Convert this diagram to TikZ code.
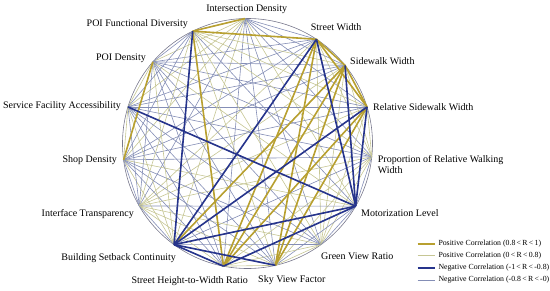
\documentclass[tikz,border=0pt]{standalone}
\usepackage{fontspec}
\setmainfont{Liberation Serif}
\definecolor{goldc}{RGB}{184,160,48}
\definecolor{dbluec}{RGB}{38,52,140}
\definecolor{tanc}{RGB}{198,198,148}
\definecolor{gbluec}{RGB}{132,142,182}
\definecolor{circc}{RGB}{120,120,140}
\begin{document}
\begin{tikzpicture}[x=1pt,y=1pt,
  lab/.style={font=\fontsize{10}{11.5}\selectfont, inner sep=0pt},
  leg/.style={font=\fontsize{7.8}{9}\selectfont, inner sep=0pt, anchor=west},
  thinpos/.style={draw=tanc, line width=0.6pt},
  thinneg/.style={draw=gbluec, line width=0.6pt},
  strongpos/.style={draw=goldc, line width=1.6pt},
  strongneg/.style={draw=dbluec, line width=1.6pt},
  circ/.style={draw=circc, line width=0.6pt}]
\useasboundingbox (0,0) rectangle (550,-290);
\coordinate (c) at (247.5,-143.5);
\draw[circ] (c) circle (125);
% points on the circle
\path (c) ++(91.2:125) coordinate (n1);   % Intersection Density
\path (c) ++(56.5:125) coordinate (n2);   % Street Width
\path (c) ++(38.7:125) coordinate (n3);   % Sidewalk Width
\path (c) ++(17.0:125) coordinate (n4);   % Relative Sidewalk Width
\path (c) ++(-6.1:125) coordinate (n5);   % Proportion of Relative Walking Width
\path (c) ++(-30.1:125) coordinate (n6);  % Motorization Level
\path (c) ++(-53.9:125) coordinate (n7);  % Green View Ratio
\path (c) ++(-77.1:125) coordinate (n8);  % Sky View Factor
\path (c) ++(-101.1:125) coordinate (n9); % Street Height-to-Width Ratio
\path (c) ++(-126:125) coordinate (n10);  % Building Setback Continuity
\path (c) ++(-150:125) coordinate (n11);  % Interface Transparency
\path (c) ++(-172.5:125) coordinate (n12);% Shop Density
\path (c) ++(163:125) coordinate (n13);   % Service Facility Accessibility
\path (c) ++(139.2:125) coordinate (n14); % POI Density
\path (c) ++(116:125) coordinate (n15);   % POI Functional Diversity
% weak correlations
\def\signs{{0,-1,1,1,1,1,-1,1,1,1,-1,1,-1,-1,-1,1}}
\foreach \i in {1,...,14}{
  \pgfmathtruncatemacro\ja{\i+1}
  \foreach \j in {\ja,...,15}{
    \pgfmathtruncatemacro\p{\signs[\i]*\signs[\j]}
    \ifnum\p>0 \draw[thinpos] (n\i) -- (n\j); \else \draw[thinneg] (n\i) -- (n\j); \fi
  }
}
% strong positive
\foreach \a/\b in {1/15,15/2,15/9,14/12,2/3,2/4,3/4,2/9,2/8,3/10,3/9,3/8,4/9,4/8}
  \draw[strongpos] (n\a) -- (n\b);
% strong negative
\foreach \a/\b in {15/10,13/6,2/10,2/6,3/6,4/6,4/10,10/6,10/9,10/8,9/6}
  \draw[strongneg] (n\a) -- (n\b);
% labels
\node[lab] (l1) at (246.7,-9) {Intersection Density};
\node[lab,anchor=west] (l2) at (310.7,-26.7) {Street Width};
\node[lab,anchor=west] (l3) at (350,-60.7) {Sidewalk Width};
\node[lab,anchor=west] (l4) at (373,-106.7) {Relative Sidewalk Width};
\node[lab,anchor=west,align=left] (l5) at (377.7,-164.6) {Proportion of Relative Walking\\Width};
\node[lab,anchor=west] (l6) at (361,-212.7) {Motorization Level};
\node[lab,anchor=west] (l7) at (321,-256) {Green View Ratio};
\node[lab,anchor=west] (l8) at (258,-280) {Sky View Factor};
\node[lab,anchor=east] (l9) at (248,-281) {Street Height-to-Width Ratio};
\node[lab,anchor=east] (l10) at (176,-257.7) {Building Setback Continuity};
\node[lab,anchor=east] (l11) at (134,-214) {Interface Transparency};
\node[lab,anchor=east] (l12) at (117,-160) {Shop Density};
\node[lab,anchor=east] (l13) at (121,-106) {Service Facility Accessibility};
\node[lab,anchor=east] (l14) at (146,-58) {POI Density};
\node[lab,anchor=east] (l15) at (188,-24) {POI Functional Diversity};
% legend
\coordinate (k1a) at (417.7,-244); \coordinate (k1b) at (435,-244);
\coordinate (k2a) at (417.7,-255.5); \coordinate (k2b) at (435,-255.5);
\coordinate (k3a) at (417.7,-267.7); \coordinate (k3b) at (435,-267.7);
\coordinate (k4a) at (417.7,-280); \coordinate (k4b) at (435,-280);
\draw[strongpos] (k1a) -- (k1b);
\draw[draw=tanc, line width=0.9pt] (k2a) -- (k2b);
\draw[strongneg] (k3a) -- (k3b);
\draw[draw=gbluec, line width=0.9pt] (k4a) -- (k4b);
\node[leg] (t1) at (438.3,-244) {Positive Correlation (0.8\,<\,R\,<\,1)};
\node[leg] (t2) at (438.3,-255.5) {Positive Correlation (0\,<\,R\,<\,0.8)};
\node[leg] (t3) at (438.3,-267.7) {Negative Correlation (-1\,<\,R\,<\,-0.8)};
\node[leg] (t4) at (438.3,-280) {Negative Correlation (-0.8\,<\,R\,<\,-0)};
\end{tikzpicture}
\end{document}
